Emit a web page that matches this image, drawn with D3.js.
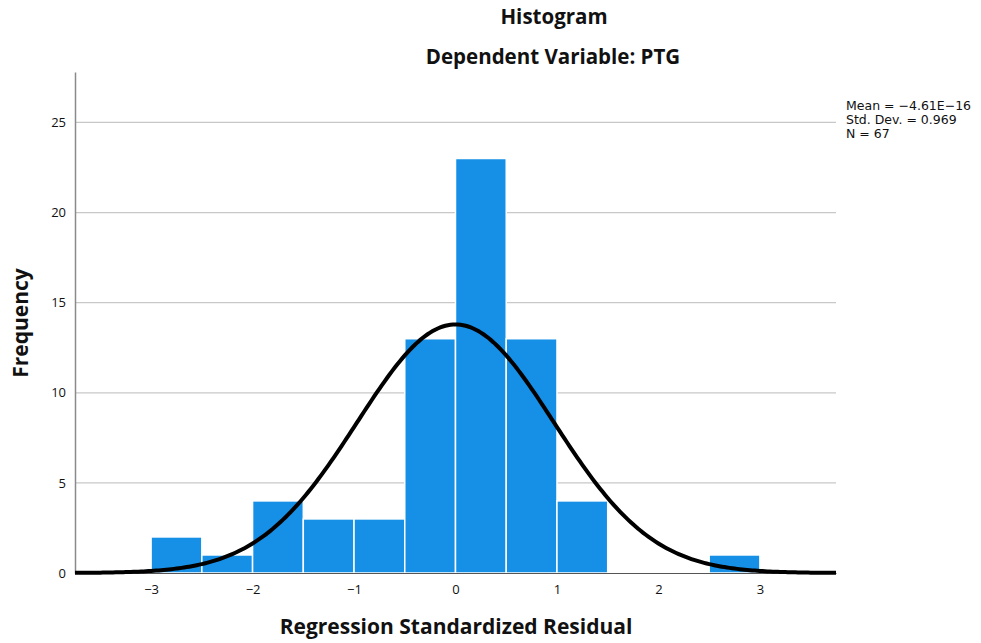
<!DOCTYPE html>
<html>
<head>
<meta charset="utf-8">
<script src="https://cdn.jsdelivr.net/npm/d3@7"></script>
<style>
  body { margin: 0; background: #fff; }
  text { font-family: "Open Sans", "DejaVu Sans", sans-serif; fill: #111; }
</style>
</head>
<body>
<div id="chart"></div>
<script>
// histogram bins (lower edge, width 0.5) and counts
var binStarts = [-3, -2.5, -2, -1.5, -1, -0.5, 0, 0.5, 1, 1.5, 2, 2.5];
var binCounts = [2, 1, 4, 3, 3, 13, 23, 13, 4, 0, 0, 1];
var binWidth = 0.5;
var xTicks = [-3, -2, -1, 0, 1, 2, 3];
var yTicks = [0, 5, 10, 15, 20, 25];
var statMean = -4.61e-16, statSd = 0.969, statN = 67;
var legendLines = ["Mean = \u22124.61E\u221216", "Std. Dev. = 0.969", "N = 67"];

var width = 981, height = 643;
var plotLeft = 75, plotRight = 836, plotTop = 72, plotBottom = 573;

var svg = d3.select("#chart").append("svg")
    .attr("width", width)
    .attr("height", height);

var x = d3.scaleLinear().domain([-3.75, 3.75]).range([plotLeft, plotRight]);
var y = d3.scaleLinear().domain([0, 27.8]).range([plotBottom, plotTop]);

// grid lines
svg.selectAll(".grid")
    .data(yTicks.filter(function(d) { return d > 0; }))
    .enter().append("line")
    .attr("x1", plotLeft).attr("x2", plotRight)
    .attr("y1", function(d) { return y(d); })
    .attr("y2", function(d) { return y(d); })
    .style("stroke", "#c8c8c8")
    .style("stroke-width", 1.2);

// bars
var bins = binStarts.map(function(s, i) { return { x0: s, n: binCounts[i] }; })
    .filter(function(d) { return d.n > 0; });

svg.selectAll(".bar")
    .data(bins)
    .enter().append("rect")
    .attr("class", "bar")
    .attr("x", function(d) { return x(d.x0); })
    .attr("width", function(d) { return x(d.x0 + binWidth) - x(d.x0); })
    .attr("y", function(d) { return y(d.n); })
    .attr("height", function(d) { return y(0) - y(d.n); })
    .style("fill", "#1590e6")
    .style("stroke", "#fff")
    .style("stroke-width", 1.5);

// y axis
var yAxis = svg.append("g")
    .attr("transform", "translate(" + plotLeft + ",0)")
    .call(d3.axisLeft(y).tickValues(yTicks).tickSize(0).tickPadding(9));
yAxis.select(".domain").style("stroke", "#8a8a8a").style("stroke-width", 1.5);
yAxis.selectAll("text").style("font-size", "13px");

// x axis
var xAxis = svg.append("g")
    .attr("transform", "translate(0," + plotBottom + ")")
    .call(d3.axisBottom(x).tickValues(xTicks).tickSize(0).tickPadding(12)
        .tickFormat(function(d) { return d < 0 ? "\u2212" + Math.abs(d) : d; }));
xAxis.select(".domain").style("stroke", "#555").style("stroke-width", 1.2);
xAxis.selectAll("text").style("font-size", "13px");

// normal curve from the reported mean, sd and N
var pts = d3.range(-3.75, 3.751, 0.025).map(function(v) {
    var z = (v - statMean) / statSd;
    return [v, statN * binWidth * Math.exp(-0.5 * z * z) / (statSd * Math.sqrt(2 * Math.PI))];
});
svg.append("path")
    .datum(pts)
    .attr("d", d3.line()
        .x(function(d) { return x(d[0]); })
        .y(function(d) { return y(d[1]); }))
    .style("fill", "none")
    .style("stroke", "#000")
    .style("stroke-width", 4);

// titles
svg.append("text")
    .attr("x", 554).attr("y", 24)
    .attr("text-anchor", "middle")
    .style("font-size", "20.5px").style("font-weight", "bold")
    .text("Histogram");
svg.append("text")
    .attr("x", 553).attr("y", 64)
    .attr("text-anchor", "middle")
    .style("font-size", "20.5px").style("font-weight", "bold")
    .text("Dependent Variable: PTG");

svg.append("text")
    .attr("transform", "translate(28,323) rotate(-90)")
    .attr("text-anchor", "middle")
    .style("font-size", "21px").style("font-weight", "bold")
    .text("Frequency");

svg.append("text")
    .attr("x", 456).attr("y", 634)
    .attr("text-anchor", "middle")
    .style("font-size", "21px").style("font-weight", "bold")
    .text("Regression Standardized Residual");

// stats legend
svg.selectAll(".stat")
    .data(legendLines)
    .enter().append("text")
    .attr("x", 846)
    .attr("y", function(d, i) { return 110 + i * 14; })
    .style("font-family", "'DejaVu Sans', sans-serif")
    .style("font-size", "12.5px")
    .text(function(d) { return d; });
</script>
</body>
</html>
